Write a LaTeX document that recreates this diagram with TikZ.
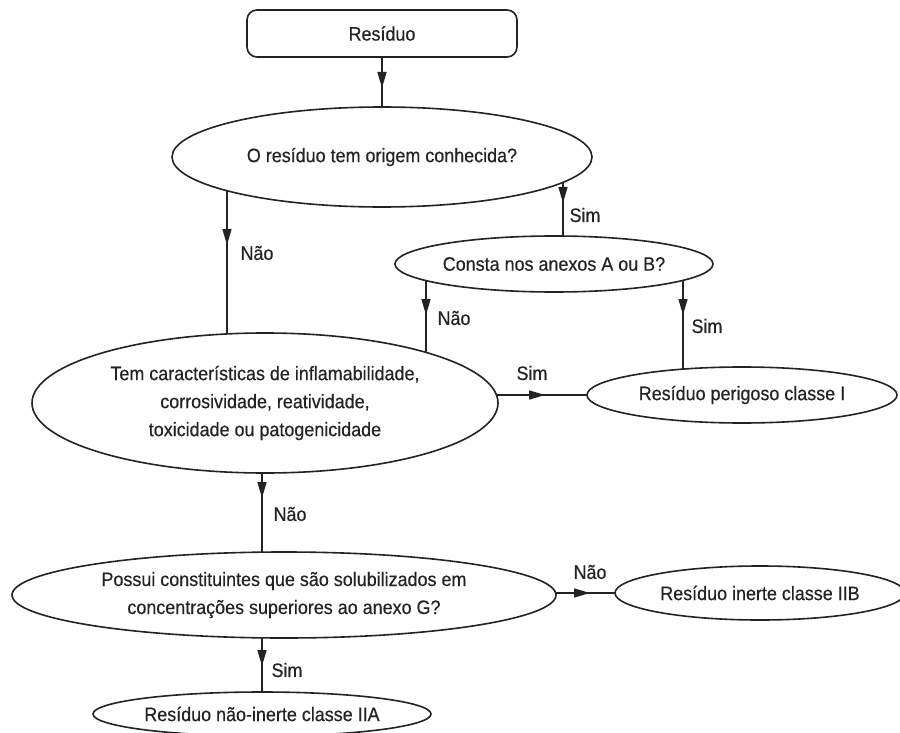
\documentclass[tikz,border=0pt]{standalone}
\usepackage{fontspec}
\setmainfont[FakeStretch=0.92,FakeBold=0.35]{Liberation Sans}
\usetikzlibrary{shapes.geometric,arrows.meta,decorations.markings}
\definecolor{ink}{RGB}{35,35,35}
\pgfdeclarelayer{bg}
\pgfsetlayers{bg,main}
\begin{document}
\begin{tikzpicture}[x=1pt,y=-1pt,
  every node/.style={text=ink},
  txt/.style={font=\fontsize{19.5}{28}\selectfont},
  decision/.style={ellipse, draw=ink, line width=1.6pt, fill=white, inner sep=0pt, txt, align=center},
  startbox/.style={rectangle, rounded corners=10pt, draw=ink, line width=1.6pt, fill=white, txt},
  conn/.style={color=ink, line width=1.4pt},
  lbl/.style={txt},
  midarrow/.style={postaction={decorate}, decoration={markings, mark=at position #1 with {\arrow{Triangle[length=16pt,width=9pt]}}}}
]
\useasboundingbox (0,0) rectangle (900,733);

\node[startbox, minimum width=270pt, minimum height=47pt] (res) at (382,33.5) {Resíduo};
\node[decision, minimum width=420pt, minimum height=100pt] (q1) at (382,157) {O resíduo tem origem conhecida?};
\node[decision, minimum width=318pt, minimum height=56pt] (q2) at (554,264) {Consta nos anexos A ou B?};
\node[decision, minimum width=466pt, minimum height=140pt] (q3) at (265,403) {Tem características de inflamabilidade,\\corrosividade, reatividade,\\toxicidade ou patogenicidade};
\node[decision, minimum width=310pt, minimum height=56pt] (c1) at (742,395) {Resíduo perigoso classe I};
\node[decision, minimum width=544pt, minimum height=86pt] (q4) at (284,595) {Possui constituintes que são solubilizados em\\concentrações superiores ao anexo G?};
\node[decision, minimum width=290pt, minimum height=54pt] (c2) at (760,593) {Resíduo inerte classe IIB};
\node[decision, minimum width=338pt, minimum height=44pt] (c3) at (262,714) {Resíduo não-inerte classe IIA};

\node[lbl] (lNao1) at (257,253) {Não};
\node[lbl] (lSim1) at (585,215) {Sim};
\node[lbl] (lNao2) at (454,318) {Não};
\node[lbl] (lSim2) at (707,326) {Sim};
\node[lbl] (lSim3) at (532,373) {Sim};
\node[lbl] (lNao3) at (290,514) {Não};
\node[lbl] (lNao4) at (590,572) {Não};
\node[lbl] (lSim4) at (287,670) {Sim};

\begin{pgfonlayer}{bg}
\fill[white] (0,0) rectangle (900,733);
\draw[conn, midarrow=54.5pt] (res.center) -- (q1.center);
\draw[conn, midarrow=88pt] ([xshift=-155pt]q1.center) -- ([xshift=-38pt]q3.center);
\draw[conn, midarrow=46pt] ([xshift=181pt]q1.center) -- ([xshift=9pt]q2.center);
\draw[conn, midarrow=51pt] ([xshift=-128pt]q2.center) -- ([xshift=161pt]q3.center);
\draw[conn, midarrow=51pt] ([xshift=129pt]q2.center) -- ([xshift=-59pt]c1.center);
\draw[conn, midarrow=280pt] (q3.center |- c1.center) -- (c1.center);
\draw[conn, midarrow=95pt] ([xshift=-3pt]q3.center) -- ([xshift=-22pt]q4.center);
\draw[conn, midarrow=306pt] (q4.center |- c2.center) -- (c2.center);
\draw[conn, midarrow=71pt] ([xshift=-22pt]q4.center) -- (c3.center);
\end{pgfonlayer}
\end{tikzpicture}
\end{document}
